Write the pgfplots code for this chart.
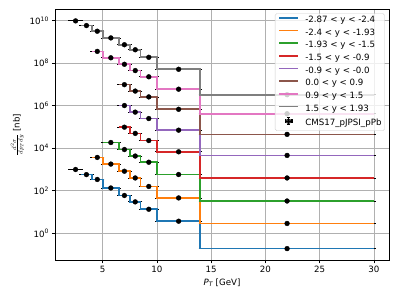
\documentclass[border=0pt]{standalone}
\usepackage{fontspec}
\setmainfont{DejaVu Sans}
\usepackage{pgfplots}
\usepackage{pgfplotstable}
\pgfplotsset{compat=1.18}
\definecolor{tabblue}{HTML}{1F77B4}
\definecolor{taborange}{HTML}{FF7F0E}
\definecolor{tabgreen}{HTML}{2CA02C}
\definecolor{tabred}{HTML}{D62728}
\definecolor{tabpurple}{HTML}{9467BD}
\definecolor{tabbrown}{HTML}{8C564B}
\definecolor{tabpink}{HTML}{E377C2}
\definecolor{tabgray}{HTML}{7F7F7F}
\definecolor{gridgray}{HTML}{B0B0B0}

\pgfplotstableread{
x xerr y
2.5 0.5 9.8e9
3.5 0.5 5.9e9
4.5 0.5 3.2e9
5.75 0.75 1.55e9
7 0.5 7.4e8
8 0.5 4.3e8
9.25 0.75 1.9e8
12 2 5.2e7
22 8 3.3e6
4.5 0.5 3.6e8
5.75 0.75 1.8e8
7 0.5 8.9e7
8 0.5 4.5e7
9.25 0.75 2.3e7
12 2 6.0e6
22 8 4.2e5
7 0.5 9.8e6
8 0.5 4.9e6
9.25 0.75 2.6e6
12 2 6.8e5
22 8 4.5e4
7 0.5 1.02e6
8 0.5 5.0e5
9.25 0.75 2.5e5
12 2 7.1e4
22 8 4.6e3
7 0.5 9.8e4
8 0.5 5.0e4
9.25 0.75 2.3e4
12 2 6.8e3
22 8 4.0e2
5.75 0.75 1.86e4
7 0.5 8.7e3
8 0.5 4.3e3
9.25 0.75 2.2e3
12 2 5.8e2
22 8 33
4.5 0.5 3.7e3
5.75 0.75 1.8e3
7 0.5 8.3e2
8 0.5 4.0e2
9.25 0.75 1.6e2
12 2 46
22 8 2.9
2.5 0.5 1000
3.5 0.5 575
4.5 0.5 340
5.75 0.75 135
7 0.5 60
8 0.5 30
9.25 0.75 13.5
12 2 3.7
22 8 0.19
}\points

\begin{document}
\begin{tikzpicture}
\path[use as bounding box] (0,0) rectangle (460.8pt,345.6pt);
\begin{axis}[
  at={(63.5pt,45pt)}, anchor=south west,
  scale only axis, width=385.8pt, height=290.2pt,
  xmin=0.6, xmax=31.4,
  ymode=log, ymin=0.0537, ymax=3.55e10,
  xtick={5,10,15,20,25,30},
  xticklabels={5,10,15,20,25,30},
  ytick={1,1e2,1e4,1e6,1e8,1e10},
  yticklabels={10\textsuperscript{0},10\textsuperscript{2},10\textsuperscript{4},10\textsuperscript{6},10\textsuperscript{8},10\textsuperscript{10}},
  yminorticks=false,
  grid=major, major grid style={color=gridgray, line width=0.8pt},
  tick align=outside, tick pos=left, major tick length=3.5pt,
  every tick/.style={black, line width=0.8pt},
  axis line style={line width=0.8pt},
  tick label style={font=\fontsize{10}{12}\selectfont},
  xlabel={\itshape P\textsubscript{T}\upshape\ [GeV]},
  ylabel={$\frac{d^2\sigma}{dp_T dy}$ [nb]},
  label style={font=\fontsize{10}{12}\selectfont},
  legend cell align=left,
  legend image code/.code={\draw[#1] (0pt,3pt) -- (22pt,3pt);},
  legend style={at={(1,1)}, anchor=north east, xshift=-5pt, yshift=-5pt,
    fill=white, fill opacity=0.8, draw opacity=1, text opacity=1,
    draw=black!20, rounded corners=2pt, font=\fontsize{10}{12}\selectfont,
    nodes={inner xsep=0pt, inner ysep=0pt, text height=7.5pt, text depth=2.5pt},
    row sep=4.6pt, column sep=7.4pt, inner xsep=3.5pt, inner ysep=3pt},
]
\addplot[forget plot, only marks, mark=none, error bars/.cd, x dir=both, x explicit,
  error bar style={black, line width=0.9pt},
  error mark options={black, mark size=2pt, line width=0.9pt}]
  table[x=x, y=y, x error=xerr] {\points};

\addplot[tabblue, line width=1.9pt, const plot mark right] coordinates {
(3,575) (4,575) (5,340) (6.5,135) (7.5,60) (8.5,30) (10,13.5) (14,3.7) (30,0.19)};
\addlegendentry{-2.87 < y < -2.4}
\addplot[taborange, line width=1.9pt, const plot mark right] coordinates {
(4,3.7e3) (5,3.7e3) (6.5,1.8e3) (7.5,8.3e2) (8.5,4.0e2) (10,1.6e2) (14,46) (30,2.9)};
\addlegendentry{-2.4 < y < -1.93}
\addplot[tabgreen, line width=1.9pt, const plot mark right] coordinates {
(5,1.86e4) (6.5,1.86e4) (7.5,8.7e3) (8.5,4.3e3) (10,2.2e3) (14,5.8e2) (30,33)};
\addlegendentry{-1.93 < y < -1.5}
\addplot[tabred, line width=1.9pt, const plot mark right] coordinates {
(6.5,9.8e4) (7.5,9.8e4) (8.5,5.0e4) (10,2.3e4) (14,6.8e3) (30,4.0e2)};
\addlegendentry{-1.5 < y < -0.9}
\addplot[tabpurple, line width=1.9pt, const plot mark right] coordinates {
(6.5,1.02e6) (7.5,1.02e6) (8.5,5.0e5) (10,2.5e5) (14,7.1e4) (30,4.6e3)};
\addlegendentry{-0.9 < y < -0.0}
\addplot[tabbrown, line width=1.9pt, const plot mark right] coordinates {
(6.5,9.8e6) (7.5,9.8e6) (8.5,4.9e6) (10,2.6e6) (14,6.8e5) (30,4.5e4)};
\addlegendentry{0.0 < y < 0.9}
\addplot[tabpink, line width=1.9pt, const plot mark right] coordinates {
(4,3.6e8) (5,3.6e8) (6.5,1.8e8) (7.5,8.9e7) (8.5,4.5e7) (10,2.3e7) (14,6.0e6) (30,4.2e5)};
\addlegendentry{0.9 < y < 1.5}
\addplot[tabgray, line width=1.9pt, const plot mark right] coordinates {
(3,5.9e9) (4,5.9e9) (5,3.2e9) (6.5,1.55e9) (7.5,7.4e8) (8.5,4.3e8) (10,1.9e8) (14,5.2e7) (30,3.3e6)};
\addlegendentry{1.5 < y < 1.93}

\addplot[only marks, mark=*, mark size=2.8pt, black,
  legend image code/.code={
    \draw[black, line width=1.2pt] (7pt,3pt) -- (15pt,3pt);
    \draw[black, line width=1.2pt] (7pt,1pt) -- (7pt,5pt) (15pt,1pt) -- (15pt,5pt);
    \draw[black, line width=1.2pt] (11pt,-1pt) -- (11pt,7pt);
    \draw[black, line width=1.2pt] (9pt,-1pt) -- (13pt,-1pt) (9pt,7pt) -- (13pt,7pt);
    \fill[black] (11pt,3pt) circle (2.8pt);
  }]
  table[x=x, y=y] {\points};
\addlegendentry{CMS17\_pJPSI\_pPb}
\end{axis}
\end{tikzpicture}
\end{document}
